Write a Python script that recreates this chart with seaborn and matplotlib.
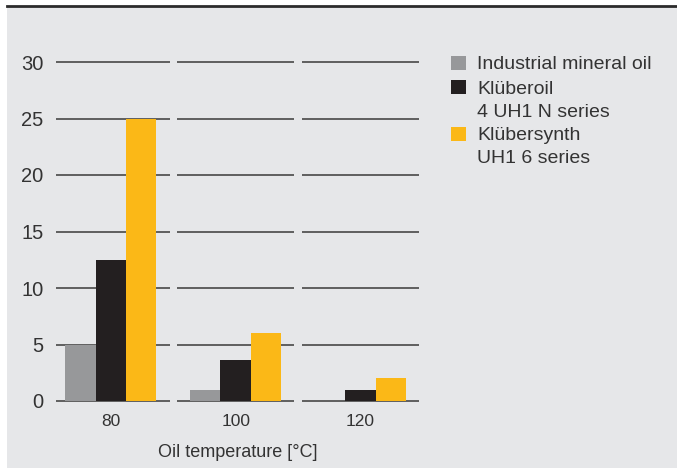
import seaborn as sns
import matplotlib.pyplot as plt
import pandas as pd
from matplotlib.patches import Rectangle

temps = ['80', '100', '120']
series = ['Industrial mineral oil', 'Klüberoil\n4 UH1 N series', 'Klübersynth\nUH1 6 series']
mineral = [5, 1, 0]
kluberoil = [12.5, 3.6, 1]
klubersynth = [25, 6, 2]
colors = ['#97989a', '#231f20', '#fbb817']
yticks = [0, 5, 10, 15, 20, 25, 30]

df = pd.DataFrame({
    'temp': temps * 3,
    'value': mineral + kluberoil + klubersynth,
    'series': [s for s in series for _ in temps],
})

bg = '#e6e7e9'
txt = '#333333'
plt.rcParams['font.family'] = ['Liberation Sans', 'DejaVu Sans']
fig = plt.figure(figsize=(6.77, 4.68), dpi=100, facecolor='white')
fig.patches.append(Rectangle((7 / 677, 0), 1, 1 - 7 / 468, transform=fig.transFigure,
                             facecolor=bg, edgecolor='none', zorder=-10))
fig.add_artist(plt.Line2D([7 / 677, 1], [1 - 6 / 468, 1 - 6 / 468], transform=fig.transFigure,
                          color='#2b2b2b', lw=2))

ax = fig.add_axes([56 / 677, 1 - 401 / 468, 363 / 677, 339 / 468])
ax.patch.set_alpha(0)

sns.barplot(data=df, x='temp', y='value', hue='series', order=temps, hue_order=series,
            palette=colors, width=0.73, saturation=1, legend=False, ax=ax, zorder=3)

# grid segments per group
for i in range(len(temps)):
    for t in yticks:
        ax.plot([i - 0.44 if i == 0 else i - 0.47, i + 0.47], [t, t], color='#3a3a3a',
                lw=1.1, zorder=1, solid_capstyle='butt', clip_on=False)

ax.set_xlim(-0.44, 2.47)
ax.set_ylim(0, 30)
ax.set_yticks(yticks)
ax.set_yticklabels([str(t) for t in yticks])
ax.tick_params(axis='both', length=0, colors=txt)
ax.tick_params(axis='y', pad=9, labelsize=14.5)
ax.tick_params(axis='x', pad=9, labelsize=12.5)
ax.set_xlabel('Oil temperature [°C]', fontsize=13, color=txt, labelpad=11)
ax.set_ylabel('')
for s in ax.spines.values():
    s.set_visible(False)

# legend: square beside first line, text anchored at baseline of its last line
first_base = [69, 93, 140]
last_base = [69, 117, 163]
for name, col, y0, y1 in zip(series, colors, first_base, last_base):
    fig.patches.append(Rectangle((451 / 677, 1 - (y0 + 1) / 468), 15 / 677, 14 / 468,
                                 transform=fig.transFigure, facecolor=col, edgecolor='none'))
    fig.text(477 / 677, 1 - y1 / 468, name, fontsize=14, color=txt,
             va='baseline', ha='left', linespacing=1.5)

fig.savefig('out.png', dpi=100, facecolor=fig.get_facecolor())
